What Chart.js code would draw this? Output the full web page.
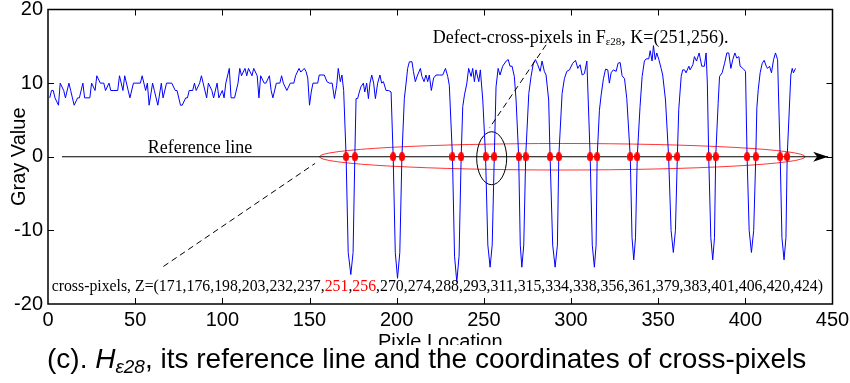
<!DOCTYPE html>
<html>
<head>
<meta charset="utf-8">
<script src="https://cdn.jsdelivr.net/npm/chart.js@4.4.0/dist/chart.umd.min.js"></script>
<style>
  html, body { margin: 0; padding: 0; background: #fff; }
  canvas { display: block; }
</style>
</head>
<body>
<canvas id="grayChart" width="850" height="383"></canvas>
<script>
// gray value profile H_e28, as [pixel location, gray value]
const profile = [
  [1,8],[2,9],[3,9],[4,8],[6,7],[7,10],[9,9],[10,8],[12,10],[13,9],[14,8],[15,7],[17,8],[18,8],[20,10],[21,8],
  [24,8],[25,10],[27,9],[28,11],[30,10],[32,10],[33,9],[35,10],[36,9],[40,9],[41,11],[43,9],[44,11],[46,9],
  [47,8],[49,10],[53,10],[54,11],[56,9],[57,10],[58,7],[60,10],[61,9],[63,7],[65,10],[66,8],[68,10],[71,10],
  [73,9],[74,9],[76,7],[77,7],[79,8],[80,8],[81,9],[83,9],[84,10],[85,9],[87,10],[88,11],[89,10],[91,8],
  [92,10],[94,9],[95,8],[97,10],[98,8],[100,9],[101,8],[102,10],[104,12],[105,8],[107,8],[109,10],[110,12],
  [111,11],[113,12],[114,11],[115,12],[117,11],[118,12],[120,11],[121,8],[122,11],[124,10],[125,10],[127,11],
  [128,9],[129,8],[131,10],[133,10],[134,11],[135,10],[137,9],[139,10],[141,10],[142,11],[144,12],[145,11.5],
  [147,12],[148,11.6],[149,10.7],[150,7],[151,8.8],[152,10],[154.7,10],[155.6,11.1],[158.5,11.1],[160,10.2],
  [161.4,10],[163,10],[164.3,7.9],[165.6,9.7],[166.5,12],[167.7,10.2],[168.6,11.1],[169.6,9],
  [171,0],[172.2,-13],[173.7,-16],[175,-13],[176,0],
  [176.7,7.9],[177.6,7.9],[178.6,8.8],[179.5,9.5],[180.9,10],[181.7,8.8],[182.8,10],[183.8,7.9],[184.7,10],
  [185.7,11.1],[186.8,10],[187.8,7.9],[189.1,10],[190.4,11.1],[191.4,10],[192.4,10.2],[193.9,9],[195.4,9],[196.8,8.8],
  [198,0],[199.2,-13],[200.5,-16.5],[201.8,-13],[203,0],
  [204.4,7.9],[205.4,10],[206.3,12],[207.3,12.9],[208.8,12.9],[209.6,11.6],[210.7,10.2],[212,11.1],[213.6,12],
  [214.5,10.9],[215.7,10.2],[216.8,11.1],[217.8,10.2],[218.7,11.1],[219.9,9],[221.2,10.7],[222.6,11.1],[224.5,11.1],
  [226.4,11.1],[228,12],[229.3,10.9],[230.2,9.7],
  [232,0],[233.2,-13.5],[234.5,-17],[235.8,-13.5],[237,0],
  [237.9,6.8],[238.9,8.4],[240.2,9.9],[241.3,12],[242.7,10.9],[243.6,12],[244.6,10.2],[245.5,11.8],[247.1,10.2],
  [248,11.8],[249.4,7.7],
  [251,0],[252.3,-12],[253.6,-15],[254.8,-12],[256,0],
  [257,9.5],[258.2,12],[259.3,11.1],[260.8,12.3],[262.8,13],[264,13.2],[265,12.3],[266.2,12.3],[267.5,10.9],[268.5,7.7],
  [270,0],[270.9,-12],[271.8,-15],[272.9,-12],[274,0],
  [275.8,8.6],[277.1,10.9],[278.4,12.7],[279.6,13.2],[280.9,12.5],[282.3,11.6],[283.4,13],[284.7,11.6],[285.7,11.1],[287.2,7.7],
  [288,0],[289.5,-12],[290.9,-15],[292.2,-12],[293,0],
  [294.9,8.6],[296.2,10.6],[297.6,11.6],[299.1,11.8],[301,12.7],[302.6,13.1],[303.9,12],[305.2,12.5],[306.4,11.1],
  [307.7,11.3],[309.1,13],
  [311,0],[312.2,-12],[313.4,-15],[314.4,-12],[315,0],
  [316.3,6.3],[317.3,8.4],[318.6,10.6],[319.8,11.9],[321.1,11.8],[322,10],[323,11.4],[324.3,11.8],[325.9,11.6],
  [327,12.7],[328.2,12.8],[329.3,11],[330.7,10.6],[332,7.9],
  [334,0],[335,-11],[336,-14],[337,-11],[338,0],
  [339.6,6.8],[340.8,10.9],[342.1,13],[343.1,13.3],[344.6,13.3],[345.4,14.4],[346.5,13],[347.3,15.1],[348.3,13.2],
  [349.2,14.1],[350.4,13.2],[351.7,12],[352.6,11.1],[354.2,7.7],
  [356,0],[357.4,-10],[358.7,-13],[359.9,-10],[361,0],
  [361.8,6.4],[363.2,10.9],[364.1,11.8],[365.1,11.8],[366,11.4],[367.6,12.3],[368.3,11.8],[369.9,12.5],[370.8,13.6],
  [372,13],[373.5,14.1],[375,12.3],[376.5,12.3],[377.5,14.1],[378.2,10],
  [379,0],[380.2,-11],[381.3,-14],[382.3,-11],[383,0],
  [384.4,7.2],[385.2,10.9],[386.7,11.4],[388.1,12.7],[389.4,14.1],[390.5,14.1],[391.7,12],[392.8,13.2],[394,14.1],
  [395.1,13.4],[396.3,13.6],[397,12.3],[398.6,12],[400.1,11.6],
  [401,0],[402.2,-10],[403.5,-13],[404.8,-10],[406,0],
  [406.6,6.6],[407.4,9.1],[408.5,11.4],[409.7,12.7],[410.8,13.1],[412,12.3],[412.7,12],[413.9,12.3],[415,11.4],
  [416.2,13.2],[417.3,14.1],[418.5,13.2],
  [420,0],[421,-11],[422.2,-14],[423.3,-11],[424,0],
  [426.1,11.1],[426.9,12],[427.6,11.4],[428.8,12]
];

// pixels where the profile crosses the reference line
const crossPixels = [171,176,198,203,232,237,251,256,270,274,288,293,311,315,334,338,356,361,379,383,401,406,420,424];
const defectPixels = [251, 256];

const xTicks = [0, 50, 100, 150, 200, 250, 300, 350, 400, 450];
const yTicks = [-20, -10, 0, 10, 20];

// reference line (gray value 0) from its start to the arrow tip
const refLine = [[8, 0], [447.5, 0]];

const serif = '"Liberation Serif", "Times New Roman", serif';
const sans = '"Liberation Sans", Arial, sans-serif';

Chart.defaults.font.family = sans;
Chart.defaults.color = '#000';

// red elliptical marker for a cross-pixel
const dot = document.createElement('canvas');
dot.width = 6;
dot.height = 9;
const dctx = dot.getContext('2d');
dctx.fillStyle = '#ff0000';
dctx.beginPath();
dctx.ellipse(3, 4.5, 3, 4.5, 0, 0, Math.PI * 2);
dctx.fill();

function drawPieces(ctx, pieces, x0, y0) {
  let x = x0;
  pieces.forEach(p => {
    ctx.font = p.font;
    ctx.fillStyle = p.color || '#000';
    ctx.fillText(p.text, x, y0 + (p.dy || 0));
    x += ctx.measureText(p.text).width;
  });
  return x;
}

const annotations = {
  id: 'annotations',
  beforeDatasetsDraw(chart) {
    const { ctx, scales: { x, y } } = chart;
    ctx.save();
    // red ellipse round all cross-pixels
    ctx.strokeStyle = 'rgba(255,0,0,0.8)';
    ctx.lineWidth = 1;
    ctx.beginPath();
    ctx.ellipse(x.getPixelForValue(295), y.getPixelForValue(0),
      x.getPixelForValue(434.3) - x.getPixelForValue(295),
      y.getPixelForValue(0) - y.getPixelForValue(1.8), 0, 0, Math.PI * 2);
    ctx.stroke();
    // black ellipse round the defect pair
    ctx.strokeStyle = '#000';
    ctx.beginPath();
    ctx.ellipse(x.getPixelForValue(254.5), y.getPixelForValue(-0.2),
      x.getPixelForValue(263.1) - x.getPixelForValue(254.5),
      y.getPixelForValue(0) - y.getPixelForValue(3.6), 0, 0, Math.PI * 2);
    ctx.stroke();
    ctx.restore();
  },
  afterDatasetsDraw(chart) {
    const { ctx, chartArea: a, scales: { x, y } } = chart;
    ctx.save();

    // arrow head at the end of the reference line
    const tx = x.getPixelForValue(refLine[1][0]);
    const ty = y.getPixelForValue(0);
    ctx.fillStyle = '#000';
    ctx.beginPath();
    ctx.moveTo(tx, ty);
    ctx.lineTo(tx - 15, ty - 5);
    ctx.lineTo(tx - 11, ty);
    ctx.lineTo(tx - 15, ty + 5);
    ctx.closePath();
    ctx.fill();

    // dashed leader lines
    ctx.strokeStyle = '#000';
    ctx.lineWidth = 1;
    ctx.setLineDash([6, 4]);
    ctx.beginPath();
    ctx.moveTo(x.getPixelForValue(285.7), y.getPixelForValue(15.2));
    ctx.lineTo(x.getPixelForValue(253.2), y.getPixelForValue(3.9));
    ctx.moveTo(x.getPixelForValue(66.2), y.getPixelForValue(-14.9));
    ctx.lineTo(x.getPixelForValue(153.2), y.getPixelForValue(-0.9));
    ctx.stroke();
    ctx.setLineDash([]);

    ctx.textBaseline = 'alphabetic';
    ctx.textAlign = 'left';
    const f18 = '18px ' + serif;
    const fZ = '15.8px ' + serif;
    const fSub = '11px ' + serif;

    ctx.font = f18;
    ctx.fillStyle = '#000';
    ctx.fillText('Reference line', x.getPixelForValue(57.2), y.getPixelForValue(0.55));

    drawPieces(ctx, [
      { text: 'Defect-cross-pixels in F', font: f18 },
      { text: '\u03b528', font: fSub, dy: 2 },
      { text: ', K=(' + defectPixels.join(',') + ').', font: f18 }
    ], x.getPixelForValue(220.7), y.getPixelForValue(15.4));

    const zPieces = [{ text: 'cross-pixels, Z=(', font: fZ }];
    crossPixels.forEach((p, i) => {
      const red = defectPixels.includes(p);
      zPieces.push({ text: String(p), font: fZ, color: red ? '#ff0000' : '#000' });
      if (i < crossPixels.length - 1) zPieces.push({ text: ',', font: fZ });
    });
    zPieces.push({ text: ')', font: fZ });
    drawPieces(ctx, zPieces, x.getPixelForValue(2.1), y.getPixelForValue(-18.2));

    // box with inward ticks on all four sides
    ctx.strokeStyle = '#000';
    ctx.lineWidth = 1;
    ctx.beginPath();
    xTicks.slice(1, -1).forEach(v => {
      const px = Math.round(x.getPixelForValue(v)) + 0.5;
      ctx.moveTo(px, a.bottom); ctx.lineTo(px, a.bottom - 6);
      ctx.moveTo(px, a.top); ctx.lineTo(px, a.top + 6);
    });
    yTicks.slice(1, -1).forEach(v => {
      const py = Math.round(y.getPixelForValue(v)) + 0.5;
      ctx.moveTo(a.left, py); ctx.lineTo(a.left + 6, py);
      ctx.moveTo(a.right, py); ctx.lineTo(a.right - 6, py);
    });
    ctx.stroke();
    ctx.lineWidth = 1.5;
    ctx.strokeRect(a.left, a.top, a.right - a.left, a.bottom - a.top);
    ctx.restore();
  },
  afterDraw(chart) {
    const { ctx, chartArea: a } = chart;
    ctx.save();
    ctx.fillStyle = '#000';
    ctx.font = '20px ' + sans;
    ctx.textAlign = 'center';
    ctx.textBaseline = 'alphabetic';
    ctx.fillText('Pixle Location', (a.left + a.right) / 2, 347.5);

    ctx.save();
    ctx.translate(24.5, (a.top + a.bottom) / 2);
    ctx.rotate(-Math.PI / 2);
    ctx.fillText('Gray Value', 0, 0);
    ctx.restore();

    // caption strip
    ctx.fillStyle = '#fff';
    ctx.fillRect(0, 345, 850, 38);
    ctx.textAlign = 'left';
    drawPieces(ctx, [
      { text: '(c). ', font: '28px ' + sans },
      { text: 'H', font: 'italic 28px ' + sans },
      { text: '\u03b528', font: 'italic 19px ' + sans, dy: 5 },
      { text: ', its reference line and the coordinates of cross-pixels', font: '28px ' + sans }
    ], 47, 368);
    ctx.restore();
  }
};

new Chart(document.getElementById('grayChart'), {
  type: 'line',
  data: {
    datasets: [
      {
        data: profile.map(p => ({ x: p[0], y: p[1] })),
        borderColor: '#0000ff',
        borderWidth: 1,
        pointRadius: 0,
        tension: 0,
        order: 2
      },
      {
        data: refLine.map(p => ({ x: p[0], y: p[1] })),
        borderColor: '#000',
        borderWidth: 1.2,
        pointRadius: 0,
        order: 1
      },
      {
        data: crossPixels.map(p => ({ x: p, y: 0 })),
        showLine: false,
        pointStyle: dot,
        pointRadius: 4,
        order: 0
      }
    ]
  },
  options: {
    responsive: false,
    animation: false,
    layout: { padding: { top: 9.5, right: 17.5, left: 0, bottom: 0 } },
    plugins: { legend: { display: false }, tooltip: { enabled: false } },
    scales: {
      x: {
        type: 'linear',
        min: 0,
        max: 450,
        afterBuildTicks: s => { s.ticks = xTicks.map(v => ({ value: v })); },
        grid: { display: false, drawTicks: false },
        border: { display: false },
        ticks: { font: { size: 20 }, padding: 4, maxRotation: 0, autoSkip: false },
        afterFit: s => { s.height = 79; s.paddingLeft = 0; s.paddingRight = 0; }
      },
      y: {
        min: -20,
        max: 20,
        afterBuildTicks: s => { s.ticks = yTicks.map(v => ({ value: v })); },
        grid: { display: false, drawTicks: false },
        border: { display: false },
        ticks: { font: { size: 20 }, padding: 5 },
        afterFit: s => { s.width = 48; s.paddingTop = 0; s.paddingBottom = 0; }
      }
    }
  },
  plugins: [annotations]
});
</script>
</body>
</html>
